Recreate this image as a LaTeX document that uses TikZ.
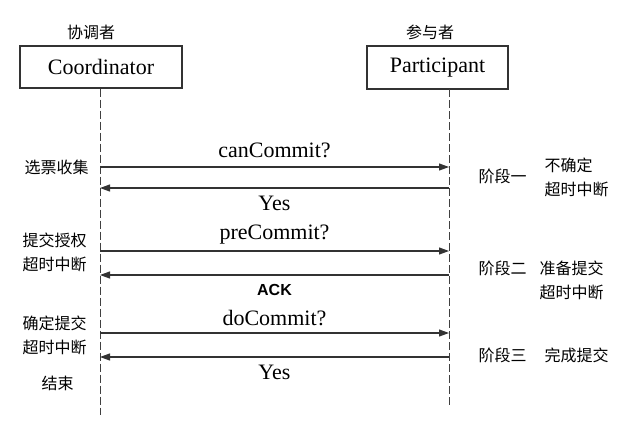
\documentclass[tikz,border=0pt]{standalone}
\usepackage{fontspec}
\setmainfont{Liberation Serif}
\newfontfamily\cjk{Noto Sans CJK SC}
\newfontfamily\ackfont{Liberation Sans}
\usetikzlibrary{positioning,calc,arrows.meta}

\tikzset{
  actor/.style={draw=black!80, line width=1.1pt, inner sep=0pt, font=\fontsize{22}{24}\selectfont},
  role/.style={font=\cjk\fontsize{16}{18}\selectfont},
  note/.style={font=\cjk\fontsize{16}{24}\selectfont, anchor=west},
  msg/.style={font=\fontsize{22}{24}\selectfont},
  lifeline/.style={draw=black!75, line width=1pt, dash pattern=on 8pt off 3pt},
  call/.style={draw=black!80, line width=1.1pt, -{Triangle[length=10pt,width=7pt]}}
}

\begin{document}
\begin{tikzpicture}[x=1pt, y=-1pt]
    \useasboundingbox (0,0) rectangle (625,429);

    \node [actor, minimum width=162pt, minimum height=42pt] (coord) at (101,67) {Coordinator};
    \node [actor, minimum width=141pt, minimum height=43pt] (part) at (437.5,67.5) {Participant};
    \node [role] (coordRole) at (91,32) {协调者};
    \node [role] (partRole) at (430,32) {参与者};

    % lifelines
    \coordinate (coordEnd) at (100,415);
    \coordinate (partTop) at (449,89);
    \coordinate (partEnd) at (449,405);
    \draw [lifeline] (coord.south -| coordEnd) -- (coordEnd);
    \draw [lifeline] (partTop) -- (partEnd);

    % message ends on the lifelines
    \foreach \n/\y in {1/167, 2/188, 3/251, 4/275, 5/333, 6/357} {
        \coordinate (c\n) at (100,\y);
        \coordinate (p\n) at (449,\y);
    }

    \draw [call] (c1) -- (p1) node [msg, midway, above=5pt] (canCommit) {canCommit?};
    \draw [call] (p2) -- (c2) node [msg, midway, below=4pt] (yes1) {Yes};
    \draw [call] (c3) -- (p3) node [msg, midway, above=3pt] (preCommit) {preCommit?};
    \draw [call] (p4) -- (c4) node [midway, below=5pt, font=\ackfont\bfseries\fontsize{16}{18}\selectfont] (ack) {ACK};
    \draw [call] (c5) -- (p5) node [msg, midway, above=3pt] (doCommit) {doCommit?};
    \draw [call] (p6) -- (c6) node [msg, midway, below=4pt] (yes2) {Yes};

    % coordinator side
    \node [note] (vote) at (21,167) {选票收集};
    \node [note, align=left] (grant) at (19,252) {提交授权\\超时中断};
    \node [note, align=left] (confirm) at (19,335) {确定提交\\超时中断};
    \node [note] (finish) at (38,383) {结束};

    % participant side
    \node [note] (stage1) at (475,176) {阶段一};
    \node [note, align=left] (unsure) at (541,177) {不确定\\超时中断};
    \node [note] (stage2) at (475,268) {阶段二};
    \node [note, align=left] (prep) at (536,280) {准备提交\\超时中断};
    \node [note] (stage3) at (475,355) {阶段三};
    \node [note] (done) at (541,355) {完成提交};
\end{tikzpicture}
\end{document}
